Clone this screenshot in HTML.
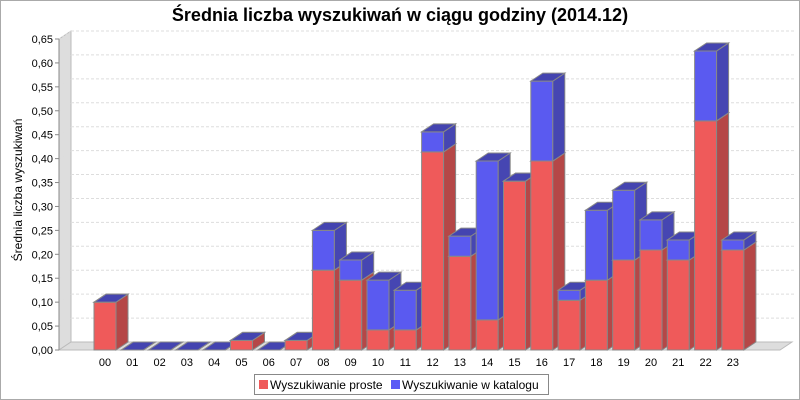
<!DOCTYPE html>
<html><head><meta charset="utf-8"><style>
body{margin:0;background:#fff}
svg{display:block;font-family:"Liberation Sans",sans-serif}
</style></head><body>
<svg id="c" width="800" height="400">
<rect x="0.5" y="0.5" width="799" height="399" fill="#fff" stroke="#aaa"/>
<text x="400" y="21" text-anchor="middle" font-size="18" font-weight="bold">Średnia liczba wyszukiwań w ciągu godziny (2014.12)</text>
<text transform="translate(22,190) rotate(-90)" text-anchor="middle" font-size="12">Średnia liczba wyszukiwań</text>
<g id="plot"></g>
<g>
<rect x="254.5" y="374.5" width="294" height="20" fill="#fff" stroke="#888"/>
<rect x="259" y="380" width="9" height="9" fill="#ef5a5a"/>
<text x="270" y="389" font-size="12">Wyszukiwanie proste</text>
<rect x="391" y="380" width="9" height="9" fill="#5a5af5"/>
<text x="402" y="389" font-size="12">Wyszukiwanie w katalogu</text>
</g>
</svg>
<script>
const categories=["00","01","02","03","04","05","06","07","08","09","10","11","12","13","14","15","16","17","18","19","20","21","22","23"];
const proste=[0.10,0,0,0,0,0.02,0,0.02,0.167,0.146,0.042,0.042,0.414,0.196,0.063,0.353,0.395,0.104,0.146,0.188,0.209,0.188,0.479,0.209];
const katalog=[0,0,0,0,0,0,0,0,0.083,0.042,0.104,0.083,0.042,0.042,0.332,0,0.167,0.021,0.146,0.146,0.063,0.042,0.146,0.021];
const yTicks=[0,0.05,0.10,0.15,0.20,0.25,0.30,0.35,0.40,0.45,0.50,0.55,0.60,0.65];
const NS="http://www.w3.org/2000/svg";
const g=document.getElementById('plot');
const X0=59,Y0=350,YT=39,DX=12,DY=8,XR=780;
const y=v=>Y0-(v/0.65)*(Y0-YT);
const xB=i=>94+i*27.3;
const BW=22;
function mk(t,a){const e=document.createElementNS(NS,t);for(const k in a)e.setAttribute(k,a[k]);g.appendChild(e);return e;}
// walls
let e=mk('polygon',{points:`${X0},${Y0} ${X0},${YT} ${X0+DX},${YT-DY} ${X0+DX},${Y0-DY}`,fill:'#ddd',stroke:'#bbb'});


e=mk('polygon',{points:`${X0},${Y0} ${X0+DX},${Y0-DY} ${XR+DX},${Y0-DY} ${XR},${Y0}`,fill:'#ddd',stroke:'#bbb'});


yTicks.forEach(t=>{
 const yy=y(t);
 if(t>0){
 e=mk('line',{x1:X0+DX,y1:yy-DY,x2:XR+DX+2,y2:yy-DY,stroke:'#ddd','stroke-dasharray':'3,2'});
 
 
 e=mk('line',{x1:X0,y1:yy,x2:X0+DX,y2:yy-DY,stroke:'#ddd','stroke-dasharray':'2,2'});
 
 }
 e=mk('line',{x1:X0-4,y1:yy,x2:X0,y2:yy,stroke:'#888'});
 
 
 e=mk('text',{x:X0-6,y:yy+4,'text-anchor':'end','font-size':'11'});
 e.textContent=t.toFixed(2).replace('.',',');
 
 
});
e=mk('line',{x1:X0,y1:Y0,x2:X0,y2:YT,stroke:'#888'});


function seg(i,v0,v1,front,side,top,name){
 const x=xB(i),ya=y(v0),yb=y(v1);
 let s=mk('polygon',{points:`${x},${yb} ${x+BW},${yb} ${x+BW},${ya} ${x},${ya}`,fill:front,stroke:'#888'});
 
 
 s=mk('polygon',{points:`${x+BW},${yb} ${x+BW+DX},${yb-DY} ${x+BW+DX},${ya-DY} ${x+BW},${ya}`,fill:side,stroke:'#888'});
 
 
 s=mk('polygon',{points:`${x},${yb} ${x+DX},${yb-DY} ${x+BW+DX},${yb-DY} ${x+BW},${yb}`,fill:top,stroke:'#888'});
 
 
}
categories.forEach((c,i)=>{
 seg(i,0,proste[i],'#ef5a5a','#b54747','#c24a4a','bar-proste');
 seg(i,proste[i],proste[i]+katalog[i],'#5a5af0','#4646b2','#4444b0','bar-katalog');
 e=mk('text',{x:xB(i)+BW/2,y:366,'text-anchor':'middle','font-size':'11'});
 e.textContent=c;
 
 
});
</script>
</body></html>
